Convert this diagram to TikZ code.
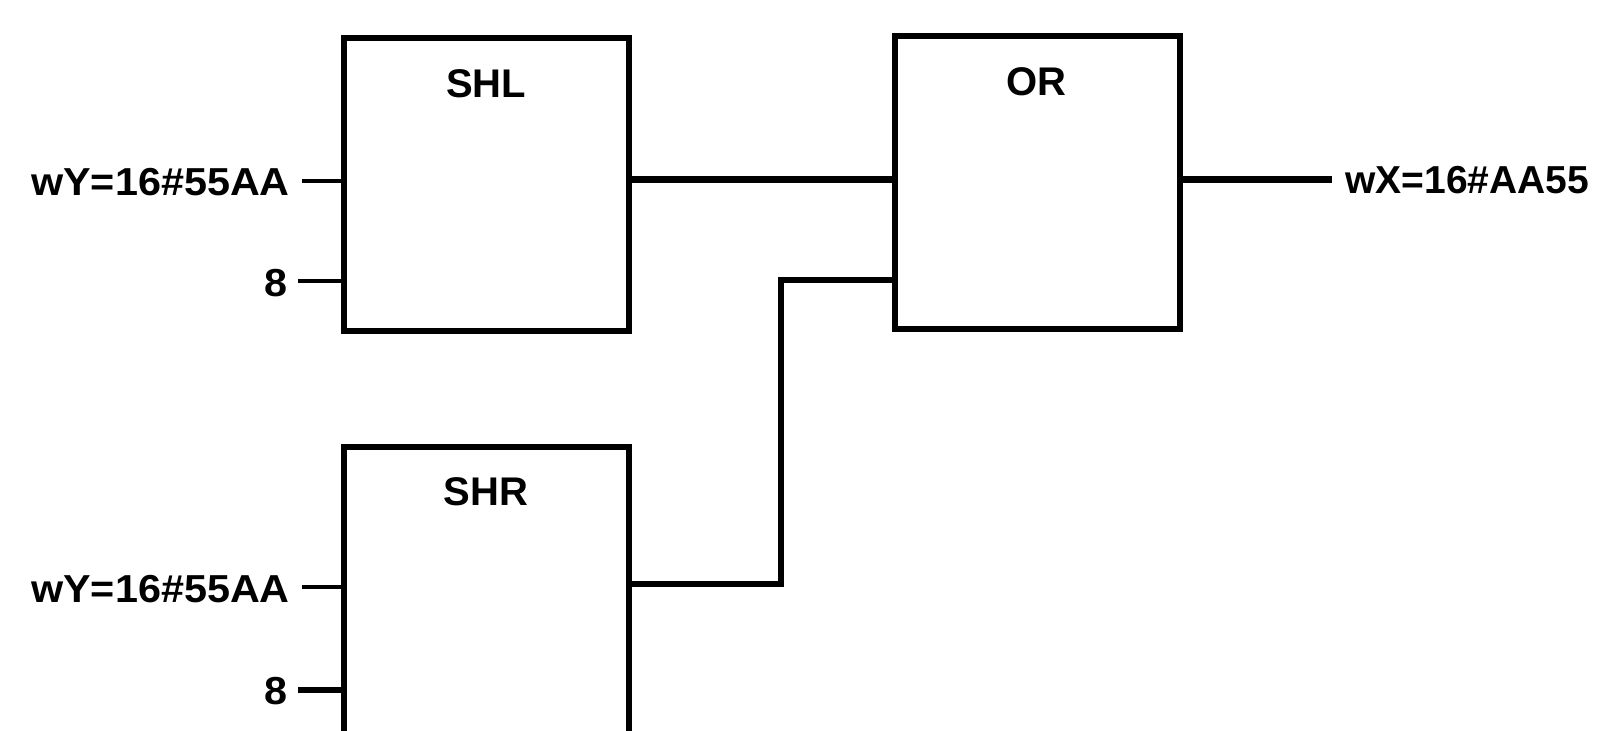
\documentclass[tikz,border=0pt]{standalone}
\usepackage{fontspec}
\setmainfont{Liberation Sans}
\newfontfamily\labfont{Liberation Sans Bold}
\newfontfamily\wlabfont[FakeStretch=1.06]{Liberation Sans Bold}
\begin{document}
\begin{tikzpicture}[x=1pt,y=-1pt,
  fblock/.style={draw=black,line width=5.5pt,minimum width=285pt,minimum height=293pt,inner sep=0pt},
  btitle/.style={font=\labfont\fontsize{40pt}{40pt}\selectfont,inner sep=0pt,text height=28.6pt,text depth=0pt},
  plabel/.style={font=\wlabfont\fontsize{39pt}{39pt}\selectfont,inner ysep=0pt,text height=28pt,text depth=0pt},
  olabel/.style={font=\labfont\fontsize{39pt}{39pt}\selectfont,inner ysep=0pt,text height=28pt,text depth=0pt},
  wire/.style={line width=7pt},
  wiretwo/.style={line width=5.5pt},
  inwire/.style={line width=4pt}]
\useasboundingbox (0,0) rectangle (1599,731);
\clip (0,0) rectangle (1599,731);
% blocks
\node[fblock] (SHL) at (486.5,184.5) {};
\node[fblock] (OR) at (1037.5,182.5) {};
\node[fblock] (SHR) at (486.5,593.5) {};
\node[btitle] (tSHL) at (486,83) {SHL};
\node[btitle] (tOR) at (1036,81.5) {OR};
\node[btitle] (tSHR) at (486,491.5) {SHR};
% input labels
\node[plabel,anchor=east,inner xsep=12pt] (a1) at (302,181) {wY=16\#55AA};
\node[plabel,anchor=east,inner xsep=10pt] (b1) at (298,282) {8};
\node[plabel,anchor=east,inner xsep=12pt] (a2) at (302,588) {wY=16\#55AA};
\node[plabel,anchor=east,inner xsep=10pt] (b2) at (298,690) {8};
\node[olabel,anchor=west,inner xsep=13pt] (out) at (1332,179) {wX=16\#AA55};
% input wires
\coordinate (p1) at (320,181);
\coordinate (p2) at (320,281);
\coordinate (p3) at (320,587);
\coordinate (p4) at (320,690);
\draw[inwire] (a1.east |- p1) -- (SHL.west |- p1);
\draw[inwire] (b1.east |- p2) -- (SHL.west |- p2);
\draw[inwire] (a2.east |- p3) -- (SHR.west |- p3);
\draw[wiretwo] (b2.east |- p4) -- (SHR.west |- p4);
% connections
\coordinate (y1) at (700,179);
\draw[wire] (SHL.east |- y1) -- (OR.west |- y1);
\draw[wire] (OR.east |- y1) -- (out.west);
\coordinate (j1) at (781,584);
\coordinate (j2) at (781,280);
\draw[wiretwo] (SHR.east |- j1) -- (j1) -- (j2) -- (OR.west |- j2);
\end{tikzpicture}
\end{document}
